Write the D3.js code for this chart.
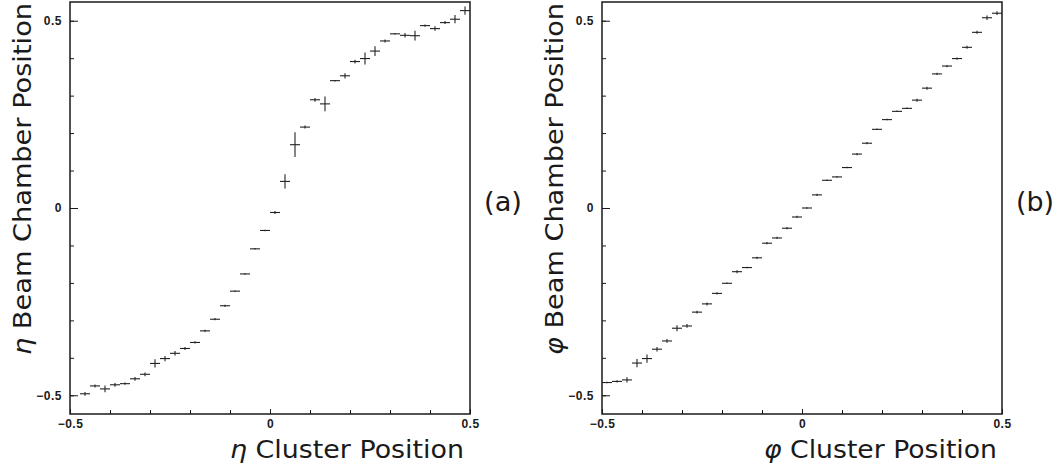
<!DOCTYPE html>
<html>
<head>
<meta charset="utf-8">
<script src="https://cdn.jsdelivr.net/npm/d3@7"></script>
<style>
  html, body { margin: 0; padding: 0; background: #fff; }
  svg { display: block; }
</style>
</head>
<body>
<svg id="chart" width="1063" height="465"></svg>
<script>
// ---- Data ----
const binHalfWidth = 0.0125;

// (a) eta: bin centers (first bin not visible) and measured beam-chamber positions
const etaX = [-0.4625,-0.4375,-0.4125,-0.3875,-0.3625,-0.3375,-0.3125,-0.2875,-0.2625,
  -0.2375,-0.2125,-0.1875,-0.1625,-0.1375,-0.1125,-0.0875,-0.0625,-0.0375,-0.0125,
  0.0125,0.0375,0.0625,0.0875,0.1125,0.1375,0.1625,0.1875,0.2125,0.2375,0.2625,
  0.2875,0.3125,0.3375,0.3625,0.3875,0.4125,0.4375,0.4625,0.4875];
const etaY = [-0.496,-0.475,-0.483,-0.472,-0.469,-0.456,-0.444,-0.415,-0.402,
  -0.388,-0.375,-0.359,-0.328,-0.297,-0.261,-0.222,-0.176,-0.109,-0.060,
  -0.012,0.071,0.169,0.216,0.289,0.278,0.340,0.353,0.391,0.399,0.419,
  0.446,0.465,0.461,0.460,0.487,0.479,0.495,0.504,0.527];
const etaErr = [0.005,0.004,0.009,0.005,0.003,0.005,0.005,0.011,0.007,
  0.006,0.004,0.003,0.003,0.003,0.003,0.002,0.002,0.002,0.002,
  0.004,0.019,0.033,0.004,0.005,0.020,0.002,0.007,0.005,0.016,0.013,
  0.004,0.002,0.006,0.013,0.003,0.006,0.004,0.011,0.011];

// (b) phi
const phiX = [-0.4875,-0.4625,-0.4375,-0.4125,-0.3875,-0.3625,-0.3375,-0.3125,-0.2875,-0.2625,
  -0.2375,-0.2125,-0.1875,-0.1625,-0.1375,-0.1125,-0.0875,-0.0625,-0.0375,-0.0125,
  0.0125,0.0375,0.0625,0.0875,0.1125,0.1375,0.1625,0.1875,0.2125,0.2375,
  0.2625,0.2875,0.3125,0.3375,0.3625,0.3875,0.4125,0.4375,0.4625,0.4875];
const phiY = [-0.466,-0.463,-0.459,-0.414,-0.402,-0.377,-0.355,-0.321,-0.315,-0.278,
  -0.256,-0.228,-0.201,-0.170,-0.159,-0.133,-0.094,-0.080,-0.054,-0.024,
  0.000,0.035,0.074,0.083,0.108,0.144,0.173,0.210,0.236,0.258,
  0.266,0.288,0.320,0.358,0.379,0.399,0.429,0.469,0.508,0.520];
const phiErr = [0.002,0.003,0.007,0.011,0.011,0.006,0.005,0.008,0.005,0.004,
  0.004,0.003,0.002,0.004,0.002,0.003,0.003,0.003,0.003,0.003,
  0.002,0.003,0.002,0.002,0.002,0.003,0.003,0.002,0.002,0.002,
  0.002,0.004,0.004,0.003,0.003,0.003,0.004,0.004,0.006,0.005];

const xDomain = [-0.5, 0.5];
const yDomain = [-0.55, 0.55];
const minorTicks = [-0.5,-0.4,-0.3,-0.2,-0.1,0,0.1,0.2,0.3,0.4,0.5];
const majorTicks = [-0.5, 0, 0.5];

const panels = [
  { x: etaX, y: etaY, err: etaErr, sym: "η", tag: "(a)",
    left: 70, right: 470, xTitleStart: 230, xTitleLen: 234, yTitleX: 31, tagX: 484 },
  { x: phiX, y: phiY, err: phiErr, sym: "φ", tag: "(b)",
    left: 602, right: 1002, xTitleStart: 764, xTitleLen: 233, yTitleX: 563, tagX: 1016 }
];

const svg = d3.select("#chart");
const plotTop = 2, plotBottom = 414;
const fmt = d => d === 0 ? "0" : d3.format(".1f")(d);
const ink = "#1a1a1a";

panels.forEach(p => {
  const x = d3.scaleLinear().domain(xDomain).range([p.left, p.right]);
  const y = d3.scaleLinear().domain(yDomain).range([plotBottom, plotTop]);
  const g = svg.append("g");

  const yMinor = g.append("g").attr("transform", `translate(${p.left},0)`)
    .call(d3.axisLeft(y).tickValues(minorTicks).tickSize(-4).tickFormat(""));
  const yMajor = g.append("g").attr("transform", `translate(${p.left},0)`)
    .call(d3.axisLeft(y).tickValues(majorTicks).tickSize(-8).tickPadding(8).tickFormat(fmt));
  const xMinor = g.append("g").attr("transform", `translate(0,${plotBottom})`)
    .call(d3.axisBottom(x).tickValues(minorTicks).tickSize(-4).tickFormat(""));
  const xMajor = g.append("g").attr("transform", `translate(0,${plotBottom})`)
    .call(d3.axisBottom(x).tickValues(majorTicks).tickSize(-5).tickPadding(5).tickFormat(fmt));

  [yMinor, yMajor, xMinor, xMajor].forEach(a => {
    a.select(".domain").remove();
    a.selectAll("line").attr("stroke", ink).attr("stroke-width", 1);
    a.selectAll("text").attr("fill", ink)
      .style("font-family", "'Liberation Sans', Arial, sans-serif")
      .style("font-size", "12px").style("font-weight", "bold")
      .style("letter-spacing", "0.5px");
  });

  g.append("rect")
    .attr("x", p.left).attr("y", plotTop)
    .attr("width", p.right - p.left).attr("height", plotBottom - plotTop)
    .attr("fill", "none").attr("stroke", ink).attr("stroke-width", 1.5);

  const pts = p.x.map((v, i) => ({ x: v, y: p.y[i], e: p.err[i] }));
  const marks = g.append("g").attr("stroke", "#222").attr("stroke-width", 1.1);
  marks.selectAll("line.h").data(pts).join("line").attr("class", "h")
    .attr("x1", d => x(d.x - binHalfWidth)).attr("x2", d => x(d.x + binHalfWidth))
    .attr("y1", d => y(d.y)).attr("y2", d => y(d.y));
  marks.selectAll("line.v").data(pts).join("line").attr("class", "v")
    .attr("x1", d => x(d.x)).attr("x2", d => x(d.x))
    .attr("y1", d => y(d.y - d.e)).attr("y2", d => y(d.y + d.e));

  const titleFont = "'DejaVu Sans', Verdana, sans-serif";

  const xt = g.append("text")
    .attr("x", p.xTitleStart).attr("y", 458)
    .attr("textLength", p.xTitleLen).attr("lengthAdjust", "spacingAndGlyphs")
    .attr("fill", ink).style("font-family", titleFont).style("font-size", "25px");
  xt.append("tspan").style("font-style", "italic").text(p.sym);
  xt.append("tspan").text(" Cluster Position");

  const yt = g.append("text")
    .attr("transform", `translate(${p.yTitleX},355) rotate(-90)`)
    .attr("textLength", 352).attr("lengthAdjust", "spacingAndGlyphs")
    .attr("fill", ink).style("font-family", titleFont).style("font-size", "25px");
  yt.append("tspan").style("font-style", "italic").text(p.sym);
  yt.append("tspan").text(" Beam Chamber Position");

  g.append("text")
    .attr("x", p.tagX).attr("y", 211)
    .attr("textLength", 38).attr("lengthAdjust", "spacingAndGlyphs")
    .attr("fill", ink).style("font-family", titleFont).style("font-size", "26px")
    .text(p.tag);
});
</script>
</body>
</html>
